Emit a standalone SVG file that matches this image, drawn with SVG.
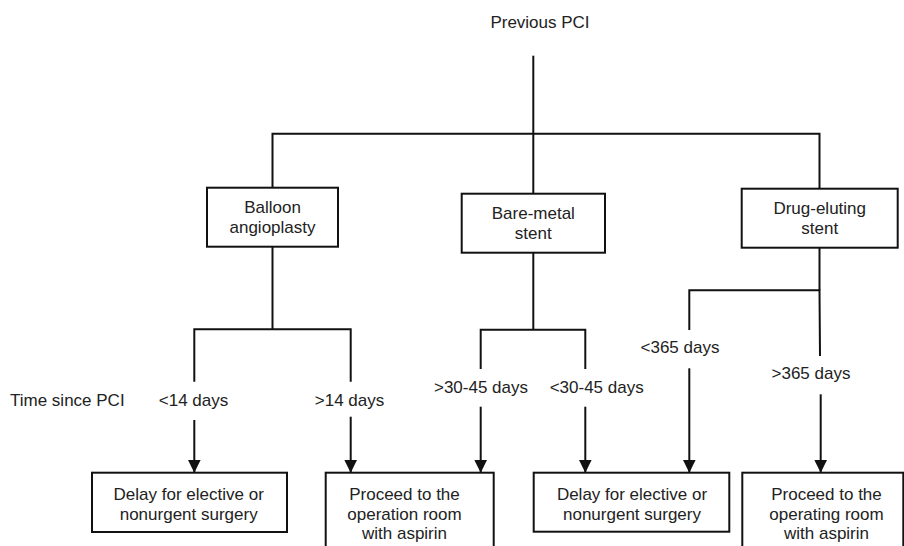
<svg xmlns="http://www.w3.org/2000/svg" width="904" height="546" viewBox="0 0 904 546">
<style>
  .box { fill: #fff; stroke: #111; stroke-width: 2; }
  .ln { fill: none; stroke: #111; stroke-width: 2; }
  .t { font-family: "Liberation Sans", Arial, sans-serif; font-size: 17px; fill: #222; text-anchor: middle; }
  .tl { font-family: "Liberation Sans", Arial, sans-serif; font-size: 17px; fill: #222; text-anchor: start; }
</style>
<defs>
  <marker id="ah" markerUnits="userSpaceOnUse" markerWidth="13" markerHeight="13" viewBox="0 0 13 13" refX="13" refY="6.5" orient="auto">
    <path d="M0,0 L13,6.5 L0,13 z" fill="#111"/>
  </marker>
</defs>
<rect width="904" height="546" fill="#fff"/>

<g id="connectors">
  <line class="ln" x1="533.3" y1="55.7" x2="533.3" y2="193.7"/>
  <polyline class="ln" points="272.5,187.7 272.5,133.7 819.5,133.7 819.5,188.7"/>
  <!-- Balloon -->
  <line class="ln" x1="272.5" y1="246.7" x2="272.5" y2="329.3"/>
  <polyline class="ln" points="194.3,381.7 194.3,329.3 350.7,329.3 350.7,381.7"/>
  <line class="ln" x1="194.3" y1="420" x2="194.3" y2="472.7" marker-end="url(#ah)"/>
  <line class="ln" x1="350.7" y1="416.7" x2="350.7" y2="472.7" marker-end="url(#ah)"/>
  <!-- Bare-metal -->
  <line class="ln" x1="533.3" y1="252.7" x2="533.3" y2="329.7"/>
  <polyline class="ln" points="480.7,369 480.7,329.7 585.3,329.7 585.3,369"/>
  <line class="ln" x1="480.7" y1="406.7" x2="480.7" y2="472.7" marker-end="url(#ah)"/>
  <line class="ln" x1="585.3" y1="406.7" x2="585.3" y2="472.7" marker-end="url(#ah)"/>
  <!-- Drug-eluting -->
  <line class="ln" x1="819.5" y1="247.7" x2="819.5" y2="290.3"/>
  <polyline class="ln" points="689.3,330 689.3,290.3 819.5,290.3 820,356"/>
  <line class="ln" x1="689.3" y1="368.3" x2="689.3" y2="472.7" marker-end="url(#ah)"/>
  <line class="ln" x1="820.7" y1="394.3" x2="820.7" y2="472.7" marker-end="url(#ah)"/>
</g>

<g id="root">
  <text class="t" x="540" y="28">Previous PCI</text>
</g>

<g id="balloon">
  <rect class="box" x="207" y="187.7" width="131" height="59"/>
  <text class="t" x="272.5" y="213">Balloon</text>
  <text class="t" x="272.5" y="233">angioplasty</text>
</g>
<g id="bare-metal">
  <rect class="box" x="461.7" y="193.7" width="143.3" height="59"/>
  <text class="t" x="533.3" y="219">Bare-metal</text>
  <text class="t" x="533.3" y="239">stent</text>
</g>
<g id="drug-eluting">
  <rect class="box" x="741.7" y="188.7" width="156" height="59"/>
  <text class="t" x="819.7" y="214.3">Drug-eluting</text>
  <text class="t" x="819.7" y="234.3">stent</text>
</g>

<g id="labels">
  <text class="tl" x="10" y="406">Time since PCI</text>
  <text class="t" x="193.5" y="406">&lt;14 days</text>
  <text class="t" x="349.5" y="406">&gt;14 days</text>
  <text class="t" x="481" y="392.7">&gt;30-45 days</text>
  <text class="t" x="596.7" y="392.7">&lt;30-45 days</text>
  <text class="t" x="680" y="353.3">&lt;365 days</text>
  <text class="t" x="811" y="379.3">&gt;365 days</text>
</g>

<g id="delay1">
  <rect class="box" x="92" y="472.7" width="195" height="59.3"/>
  <text class="t" x="188.7" y="500">Delay for elective or</text>
  <text class="t" x="188.7" y="520">nonurgent surgery</text>
</g>
<g id="proceed1">
  <rect class="box" x="325.7" y="472.7" width="168" height="100"/>
  <text class="t" x="404.5" y="500">Proceed to the</text>
  <text class="t" x="404.5" y="520">operation room</text>
  <text class="t" x="404.5" y="539.3">with aspirin</text>
</g>
<g id="delay2">
  <rect class="box" x="533.7" y="472.7" width="195.6" height="59"/>
  <text class="t" x="632" y="500">Delay for elective or</text>
  <text class="t" x="632" y="520">nonurgent surgery</text>
</g>
<g id="proceed2">
  <rect class="box" x="742.3" y="472.7" width="161" height="100"/>
  <text class="t" x="826.5" y="500">Proceed to the</text>
  <text class="t" x="826.5" y="520">operating room</text>
  <text class="t" x="826.5" y="539.3">with aspirin</text>
</g>
</svg>
